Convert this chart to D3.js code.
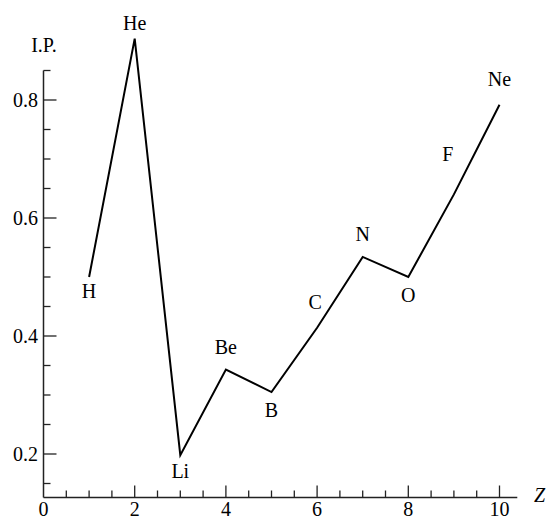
<!DOCTYPE html>
<html><head><meta charset="utf-8">
<script src="https://cdn.jsdelivr.net/npm/d3@7"></script>
<style>html,body{margin:0;padding:0;background:#fff;}svg{display:block;}
svg text{font-family:"Liberation Serif","DejaVu Serif",serif;font-size:20px;}</style>
</head><body>
<svg id="chart" width="546" height="521"></svg>
<script>
const elements = ["H","He","Li","Be","B","C","N","O","F","Ne"];
const Z = [1,2,3,4,5,6,7,8,9,10];
const ip = [0.500,0.904,0.198,0.343,0.305,0.414,0.534,0.500,0.640,0.792];
const xTickLabels = [0,2,4,6,8,10];
const yTickLabels = [0.2,0.4,0.6,0.8];
// label placement: [dx, dy baseline offset]
const labelPos = [[0,21],[0,-9],[0,23],[0,-16],[0,25],[-2,-19],[0,-16],[0,25],[-6,-33],[0,-19]];

const svg = d3.select("#chart");
const x = d3.scaleLinear().domain([0,10]).range([43.5,499.5]);
const y = d3.scaleLinear().domain([0.2,0.8]).range([454,100]);
const axisColor = "#222";

// axes lines
svg.append("line").attr("x1",x(0)).attr("x2",x(10.39)).attr("y1",497.5).attr("y2",497.5)
  .attr("stroke",axisColor).attr("stroke-width",1.5);
svg.append("line").attr("x1",x(0)).attr("x2",x(0)).attr("y1",497.5).attr("y2",y(0.85))
  .attr("stroke",axisColor).attr("stroke-width",1.5);

// x ticks
const xMinor = d3.range(0.5,10.01,0.5);
svg.selectAll(".xt").data(xMinor).enter().append("line")
  .attr("x1",d=>x(d)).attr("x2",d=>x(d)).attr("y1",497.5)
  .attr("y2",d=>Math.abs(d%2)<1e-6 ? 485.5 : 490.5)
  .attr("stroke",axisColor).attr("stroke-width",1.3);
svg.selectAll(".xl").data(xTickLabels).enter().append("text")
  .attr("x",d=>x(d)).attr("y",516).attr("text-anchor","middle").text(d=>d);
svg.append("text").attr("x",534).attr("y",502)
  .style("font-style","italic").text("Z");

// y ticks
const yMinor = d3.range(0.15,0.851,0.05);
svg.selectAll(".yt").data(yMinor).enter().append("line")
  .attr("x1",x(0)).attr("y1",d=>y(d)).attr("y2",d=>y(d))
  .attr("x2",d=>yTickLabels.some(v=>Math.abs(v-d)<1e-6) ? x(0)+13 : x(0)+7)
  .attr("stroke",axisColor).attr("stroke-width",1.3);
svg.selectAll(".yl").data(yTickLabels).enter().append("text")
  .attr("x",38).attr("y",d=>y(d)+7).attr("text-anchor","end").text(d=>d.toFixed(1));
svg.append("text").attr("x",44).attr("y",52).attr("text-anchor","middle").text("I.P.");

// data line
const pts = Z.map((z,i)=>[z,ip[i]]);
svg.append("path").datum(pts)
  .attr("d",d3.line().x(d=>x(d[0])).y(d=>y(d[1])))
  .attr("fill","none").attr("stroke","#000").attr("stroke-width",2);

// element labels
svg.selectAll(".el").data(elements).enter().append("text")
  .attr("x",(d,i)=>x(Z[i])+labelPos[i][0])
  .attr("y",(d,i)=>y(ip[i])+labelPos[i][1])
  .attr("text-anchor","middle").text(d=>d);
</script>
</body></html>
